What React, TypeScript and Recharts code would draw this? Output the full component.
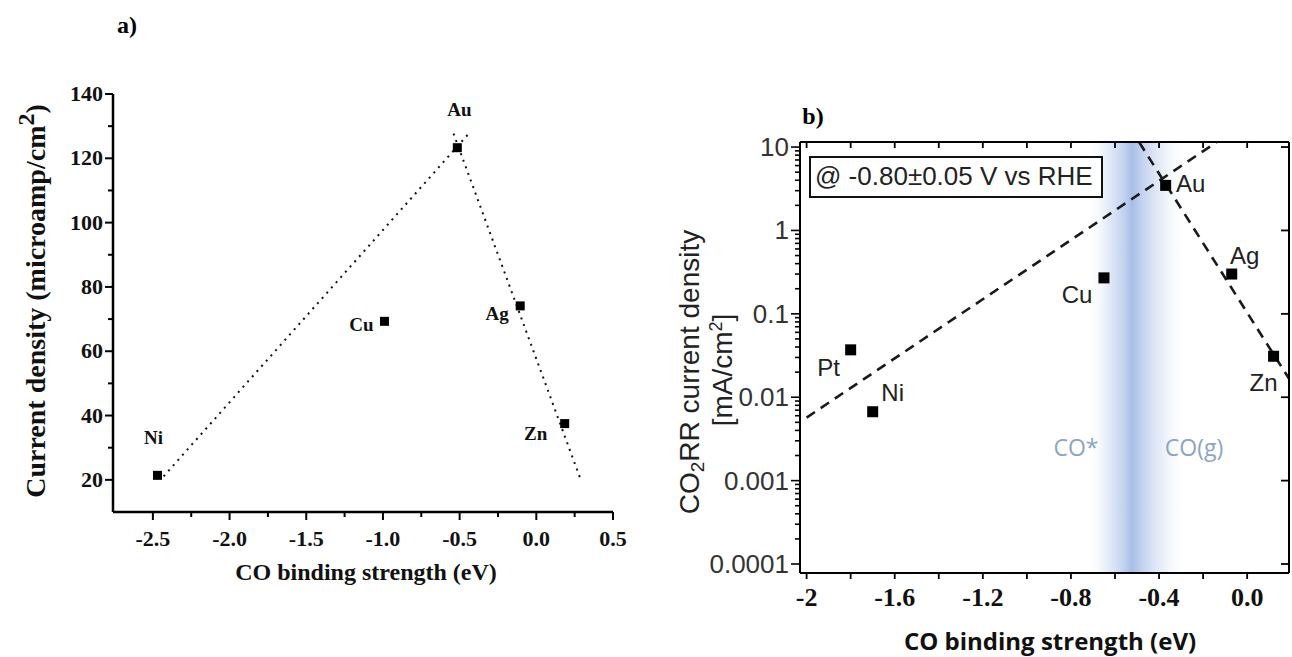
import React from 'react';
import { ScatterChart, Scatter, XAxis, YAxis, ReferenceLine, ReferenceArea } from 'recharts';

// ---- panel a: linear current density vs CO binding strength
const metalsA = ['Ni', 'Cu', 'Au', 'Ag', 'Zn'];
const bindingA = [-2.47, -0.99, -0.515, -0.105, 0.185];
const currentA = [21.4, 69.3, 123.3, 74.1, 37.5];
// dotted volcano legs (start / end)
const legLeftA = { x: [-2.43, -0.44], y: [21.1, 127.7] };
const legRightA = { x: [-0.54, 0.29], y: [127.7, 20] };
const xMajorA = [-2.5, -2.0, -1.5, -1.0, -0.5, 0.0, 0.5];
const xMinorA = [-2.25, -1.75, -1.25, -0.75, -0.25, 0.25];
const yMajorA = [20, 40, 60, 80, 100, 120, 140];
const yMinorA = [30, 50, 70, 90, 110, 130];

// ---- panel b: log CO2RR current density vs CO binding strength
const metalsB = ['Pt', 'Ni', 'Cu', 'Au', 'Ag', 'Zn'];
const bindingB = [-1.8, -1.7, -0.65, -0.37, -0.07, 0.12];
const currentB = [0.037, 0.0067, 0.27, 3.47, 0.3, 0.031];
const legLeftB = { x: [-2.0, -0.14], y: [0.0057, 11.4] };
const legRightB = { x: [-0.49, 0.19], y: [11.4, 0.0167] };
const xTicksB = [-2.0, -1.8, -1.6, -1.4, -1.2, -1.0, -0.8, -0.6, -0.4, -0.2, 0.0];
const xLabelsB: Record<string, string> = { '-2': '-2', '-1.6': '-1.6', '-1.2': '-1.2', '-0.8': '-0.8', '-0.4': '-0.4', '0': '0.0' };
const yMajorB = [0.0001, 0.001, 0.01, 0.1, 1, 10];
const yMajorLabelsB = ['0.0001', '0.001', '0.01', '0.1', '1', '10'];
const yMinorB = yMajorB.slice(0, 5).flatMap((d) => [2, 3, 4, 5, 6, 7, 8, 9].map((k) => +(d * k).toPrecision(3)));

const dataA = metalsA.map((m, i) => ({ name: m, x: bindingA[i], y: currentA[i] }));
const dataB = metalsB.map((m, i) => ({ name: m, x: bindingB[i], y: currentB[i] }));
const seg = (l: { x: number[]; y: number[] }) => [
  { x: l.x[0], y: l.y[0] },
  { x: l.x[1], y: l.y[1] },
];

const serif = '"Liberation Serif", "Times New Roman", serif';
const sans = '"Liberation Sans", Arial, sans-serif';

const labelShiftA: Record<string, [number, number]> = {
  Ni: [-4, -38],
  Cu: [-23, 3],
  Au: [2, -38],
  Ag: [-23, 8],
  Zn: [-29, 10],
};
const labelShiftB: Record<string, [number, number]> = {
  Pt: [-22, 18],
  Ni: [20, -19],
  Cu: [-27, 17],
  Au: [25, -2],
  Ag: [13, -19],
  Zn: [-10, 26],
};

const SquareA = (p: any) => {
  const [dx, dy] = labelShiftA[p.payload.name];
  return (
    <g>
      <rect x={p.cx - 4.5} y={p.cy - 4.5} width={9} height={9} fill="#000" />
      <text x={p.cx + dx} y={p.cy + dy} textAnchor="middle" dominantBaseline="central" fontFamily={serif} fontWeight="bold" fontSize={19} fill="#111">
        {p.payload.name}
      </text>
    </g>
  );
};

const SquareB = (p: any) => {
  const [dx, dy] = labelShiftB[p.payload.name];
  return (
    <g>
      <rect x={p.cx - 5.5} y={p.cy - 5.5} width={11} height={11} fill="#000" />
      <text x={p.cx + dx} y={p.cy + dy} textAnchor="middle" dominantBaseline="central" fontFamily={sans} fontSize={24} fill="#222">
        {p.payload.name}
      </text>
    </g>
  );
};

const BottomTickA = ({ x, y, payload }: any) => {
  const major = xMajorA.includes(payload.value);
  return (
    <g>
      <line x1={x} x2={x} y1={y} y2={y + (major ? 8 : 5)} stroke="#000" strokeWidth={2} />
      {major && (
        <text x={x} y={y + 34} textAnchor="middle" fontFamily={serif} fontWeight="bold" fontSize={22} fill="#111">
          {payload.value.toFixed(1)}
        </text>
      )}
    </g>
  );
};

const LeftTickA = ({ x, y, payload }: any) => {
  const major = yMajorA.includes(payload.value);
  return (
    <g>
      <line x1={x} x2={x - (major ? 8 : 5)} y1={y} y2={y} stroke="#000" strokeWidth={2} />
      {major && (
        <text x={x - 10} y={y + 7} textAnchor="end" fontFamily={serif} fontWeight="bold" fontSize={22} fill="#111">
          {payload.value}
        </text>
      )}
    </g>
  );
};

const BottomTickB = ({ x, y, payload }: any) => {
  const lbl = xLabelsB[String(payload.value)];
  return (
    <g>
      <line x1={x} x2={x} y1={y} y2={y + 6} stroke="#000" strokeWidth={1.8} />
      {lbl && (
        <text x={x} y={y + 33} textAnchor="middle" fontFamily={serif} fontWeight="bold" fontSize={26} fill="#111">
          {lbl}
        </text>
      )}
    </g>
  );
};

const TopTickB = ({ x, y }: any) => <line x1={x} x2={x} y1={y} y2={y + 6} stroke="#000" strokeWidth={1.8} />;

const LeftTickB = ({ x, y, payload }: any) => {
  const i = yMajorB.indexOf(payload.value);
  const major = i >= 0;
  return (
    <g>
      <line x1={x} x2={x - (major ? 9 : 5)} y1={y} y2={y} stroke="#000" strokeWidth={1.6} />
      {major && (
        <text x={x - 11} y={y + 9} textAnchor="end" fontFamily={sans} fontSize={26} fill="#333">
          {yMajorLabelsB[i]}
        </text>
      )}
    </g>
  );
};

const RightTickB = ({ x, y }: any) => <line x1={x} x2={x - 8} y1={y} y2={y} stroke="#000" strokeWidth={1.8} />;

const abs = (style: React.CSSProperties): React.CSSProperties => ({ position: 'absolute', whiteSpace: 'nowrap', ...style });

export default function App() {
  return (
    <div style={{ position: 'absolute', left: 0, top: 0, width: 1292, height: 657, background: '#fff', overflow: 'hidden' }}>
      {/* panel a */}
      <div style={{ position: 'absolute', left: 0, top: 0 }}>
        <ScatterChart width={660} height={657} margin={{ top: 94, right: 47, bottom: 115, left: 53 }}>
          <XAxis
            type="number"
            dataKey="x"
            domain={[-2.76, 0.5]}
            ticks={[...xMajorA, ...xMinorA]}
            interval={0}
            allowDataOverflow
            height={30}
            tickSize={0}
            tickMargin={0}
            tickLine={false}
            axisLine={{ stroke: '#000', strokeWidth: 2.5 }}
            tick={<BottomTickA />}
          />
          <YAxis
            type="number"
            dataKey="y"
            domain={[10, 140]}
            ticks={[...yMajorA, ...yMinorA]}
            interval={0}
            allowDataOverflow
            width={60}
            tickSize={0}
            tickMargin={0}
            tickLine={false}
            axisLine={{ stroke: '#000', strokeWidth: 2.5 }}
            tick={<LeftTickA />}
          />
          <ReferenceLine segment={seg(legLeftA)} stroke="#111" strokeWidth={2} strokeDasharray="2 5" />
          <ReferenceLine segment={seg(legRightA)} stroke="#111" strokeWidth={2} strokeDasharray="2 5" />
          <Scatter data={dataA} shape={<SquareA />} isAnimationActive={false} />
        </ScatterChart>
      </div>

      {/* panel b */}
      <div style={{ position: 'absolute', left: 680, top: 100 }}>
        <ScatterChart width={612} height={557} margin={{ top: 41, right: 2, bottom: 54, left: 60 }}>
          <defs>
            <linearGradient id="coBand" x1="0" y1="0" x2="1" y2="0">
              <stop offset="0%" stopColor="#ffffff" stopOpacity={0} />
              <stop offset="22%" stopColor="#dbe5f5" stopOpacity={0.8} />
              <stop offset="38%" stopColor="#bccdee" stopOpacity={0.95} />
              <stop offset="45%" stopColor="#a8bee6" stopOpacity={1} />
              <stop offset="55%" stopColor="#bfcfee" stopOpacity={0.95} />
              <stop offset="75%" stopColor="#e0e8f6" stopOpacity={0.7} />
              <stop offset="100%" stopColor="#ffffff" stopOpacity={0} />
            </linearGradient>
          </defs>
          <XAxis
            type="number"
            dataKey="x"
            domain={[-2.03, 0.19]}
            ticks={xTicksB}
            interval={0}
            allowDataOverflow
            height={30}
            tickSize={0}
            tickMargin={0}
            tickLine={false}
            axisLine={{ stroke: '#000', strokeWidth: 2 }}
            tick={<BottomTickB />}
          />
          <XAxis
            xAxisId="top"
            orientation="top"
            type="number"
            dataKey="x"
            domain={[-2.03, 0.19]}
            ticks={xTicksB}
            interval={0}
            allowDataOverflow
            height={1}
            tickSize={0}
            tickMargin={0}
            tickLine={false}
            axisLine={{ stroke: '#000', strokeWidth: 2 }}
            tick={<TopTickB />}
          />
          <YAxis
            type="number"
            dataKey="y"
            scale="log"
            domain={[0.000078, 11.5]}
            ticks={[...yMajorB, ...yMinorB]}
            interval={0}
            allowDataOverflow
            width={60}
            tickSize={0}
            tickMargin={0}
            tickLine={false}
            axisLine={{ stroke: '#000', strokeWidth: 2 }}
            tick={<LeftTickB />}
          />
          <YAxis
            yAxisId="right"
            orientation="right"
            type="number"
            dataKey="y"
            scale="log"
            domain={[0.000078, 11.5]}
            ticks={yMajorB}
            interval={0}
            allowDataOverflow
            width={1}
            tickSize={0}
            tickMargin={0}
            tickLine={false}
            axisLine={{ stroke: '#000', strokeWidth: 2 }}
            tick={<RightTickB />}
          />
          <ReferenceArea x1={-0.73} x2={-0.27} fill="url(#coBand)" fillOpacity={1} stroke="none" ifOverflow="hidden" />
          <ReferenceLine segment={seg(legLeftB)} stroke="#1a1a1a" strokeWidth={2.6} strokeDasharray="10 7" />
          <ReferenceLine segment={seg(legRightB)} stroke="#1a1a1a" strokeWidth={2.6} strokeDasharray="10 7" />
          <Scatter data={dataB} shape={<SquareB />} isAnimationActive={false} />
          <Scatter data={dataB} xAxisId="top" yAxisId="right" shape={() => <g />} isAnimationActive={false} />
        </ScatterChart>
      </div>

      {/* titles and annotations */}
      <div style={abs({ left: 127, top: 25, transform: 'translate(-50%,-50%)', fontFamily: serif, fontWeight: 'bold', fontSize: 24 })}>a)</div>
      <div style={abs({ left: 813, top: 116, transform: 'translate(-50%,-50%)', fontFamily: serif, fontWeight: 'bold', fontSize: 24 })}>b)</div>

      <div style={abs({ left: 36, top: 301, transform: 'translate(-50%,-50%) rotate(-90deg)', fontFamily: serif, fontWeight: 'bold', fontSize: 28, color: '#111' })}>
        Current density (microamp/cm<sup style={{ fontSize: 24, verticalAlign: '0.45em', lineHeight: 0 }}>2</sup>)
      </div>
      <div style={abs({ left: 366, top: 572, transform: 'translate(-50%,-50%)', fontFamily: serif, fontWeight: 'bold', fontSize: 24, color: '#111' })}>
        CO binding strength (eV)
      </div>

      <div style={abs({ left: 690, top: 372, transform: 'translate(-50%,-50%) rotate(-90deg)', fontFamily: sans, fontSize: 28, color: '#222' })}>
        CO<sub style={{ fontSize: 19, verticalAlign: '-0.25em', lineHeight: 0 }}>2</sub>RR current density
      </div>
      <div style={abs({ left: 723, top: 370, transform: 'translate(-50%,-50%) rotate(-90deg)', fontFamily: sans, fontSize: 28, color: '#222' })}>
        [mA/cm<sup style={{ fontSize: 18, verticalAlign: '0.55em', lineHeight: 0 }}>2</sup>]
      </div>
      <div style={abs({ left: 1050, top: 640, transform: 'translate(-50%,-50%)', fontFamily: '"Open Sans", sans-serif', fontWeight: 'bold', fontSize: 24, color: '#111' })}>
        CO binding strength (eV)
      </div>

      <div
        style={abs({
          left: 809,
          top: 156,
          width: 294,
          height: 42,
          boxSizing: 'border-box',
          border: '2.5px solid #111',
          fontFamily: sans,
          fontSize: 26,
          lineHeight: '37px',
          paddingLeft: 4,
          color: '#222',
          background: '#fff',
        })}
      >
        @ -0.80±0.05 V vs RHE
      </div>

      <div style={abs({ left: 1076, top: 447, transform: 'translate(-50%,-50%)', fontFamily: '"Open Sans", sans-serif', fontSize: 23, color: '#8da5c4' })}>CO*</div>
      <div style={abs({ left: 1194, top: 447, transform: 'translate(-50%,-50%)', fontFamily: '"Open Sans", sans-serif', fontSize: 23, color: '#8da5c4' })}>CO(g)</div>
    </div>
  );
}
